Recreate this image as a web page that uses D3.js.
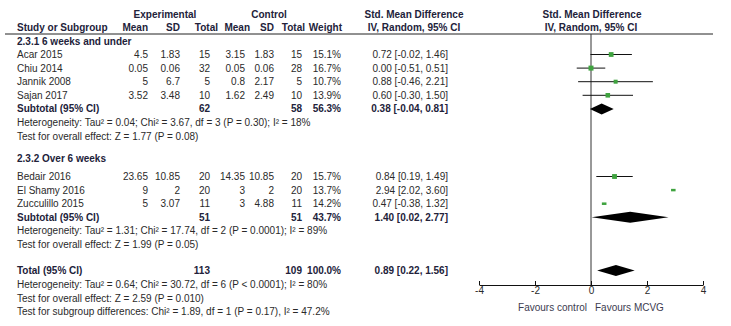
<!DOCTYPE html>
<html><head><meta charset="utf-8">
<script src="https://cdn.jsdelivr.net/npm/d3@7"></script>
<style>
html,body{margin:0;padding:0;background:#fff;}
svg text{font-family:"Liberation Sans",Arial,sans-serif;font-size:10px;}
</style></head>
<body><svg id="c" width="731" height="326"></svg>
<script>
// ---------------- DATA ----------------
const groups = ["2.3.1 6 weeks and under", "2.3.2 Over 6 weeks"];
const studies = ["Acar 2015","Chiu 2014","Jannik 2008","Sajan 2017","Bedair 2016","El Shamy 2016","Zucculillo 2015"];
const studyGroup = [0,0,0,0,1,1,1];
const expMean = [4.5, 0.05, 5, 3.52, 23.65, 9, 5];
const expSD   = [1.83, 0.06, 6.7, 3.48, 10.85, 2, 3.07];
const expN    = [15, 32, 5, 10, 20, 20, 11];
const ctlMean = [3.15, 0.05, 0.8, 1.62, 14.35, 3, 3];
const ctlSD   = [1.83, 0.06, 2.17, 2.49, 10.85, 2, 4.88];
const ctlN    = [15, 28, 5, 10, 20, 20, 11];
const weight  = [15.1, 16.7, 10.7, 13.9, 15.7, 13.7, 14.2];
const smd     = [0.72, 0.00, 0.88, 0.60, 0.84, 2.94, 0.47];
const smdLo   = [-0.02, -0.51, -0.46, -0.30, 0.19, 2.02, -0.38];
const smdHi   = [1.46, 0.51, 2.21, 1.50, 1.49, 3.60, 1.32];

const subExpN = [62, 51];
const subCtlN = [58, 51];
const subWeight = [56.3, 43.7];
const subSmd = [0.38, 1.40];
const subLo = [-0.04, 0.02];
const subHi = [0.81, 2.77];
const subHet = ["Heterogeneity: Tau\u00b2 = 0.04; Chi\u00b2 = 3.67, df = 3 (P = 0.30); I\u00b2 = 18%",
                "Heterogeneity: Tau\u00b2 = 1.31; Chi\u00b2 = 17.74, df = 2 (P = 0.0001); I\u00b2 = 89%"];
const subTest = ["Test for overall effect: Z = 1.77 (P = 0.08)",
                 "Test for overall effect: Z = 1.99 (P = 0.05)"];

const totalExpN = 113, totalCtlN = 109, totalWeight = 100.0;
const totalSmd = 0.89, totalLo = 0.22, totalHi = 1.56;
const totalNotes = ["Heterogeneity: Tau\u00b2 = 0.64; Chi\u00b2 = 30.72, df = 6 (P < 0.0001); I\u00b2 = 80%",
                    "Test for overall effect: Z = 2.59 (P = 0.010)",
                    "Test for subgroup differences: Chi\u00b2 = 1.89, df = 1 (P = 0.17), I\u00b2 = 47.2%"];
const axisTicks = [-4, -2, 0, 2, 4];
const favourLabels = ["Favours control", "Favours MCVG"];

// ---------------- LAYOUT ----------------
const svg = d3.select("#c");
const REG = "#2a2a2a", BOLD = "#22223a", GREEN = "#3fa33f";
const x = d3.scaleLinear().domain([-4, 4]).range([479, 703]);
// [value right edge, header right edge]
const col = {expMean:[148,148], expSD:[180,180], expN:[210,218], ctlMean:[245,250],
             ctlSD:[274,274], ctlN:[302,305], weight:[341,342], ci:448};
const noCI = new Set([5, 6]); // drawn without whiskers (squashed markers) as in the reference
const rowH = 13.6;
const yStudy = [], ySub = [], yHet = [], yTest = [], yHead = [];
yHead[0] = 41;
let yy = 54.5;
for (let i = 0; i < 4; i++) { yStudy.push(yy); yy += rowH; }
ySub[0] = yy; yHet[0] = yy + rowH; yTest[0] = yy + 2*rowH;
yHead[1] = 158;
yy = 176.5;
for (let i = 4; i < 7; i++) { yStudy.push(yy); yy += rowH; }
ySub[1] = yy; yHet[1] = yy + rowH; yTest[1] = yy + 2*rowH;
const yTotal = 270.5;
const yNotes = [284.5, 298, 311.5];
const yAxis = 285;

function txt(xp, yp, s, opt = {}) {
  return svg.append("text").attr("x", xp).attr("y", yp).attr("dy", "0.35em")
    .attr("text-anchor", opt.anchor || "start")
    .attr("font-weight", opt.bold ? "bold" : "normal")
    .attr("fill", opt.color || (opt.bold ? BOLD : REG)).text(s);
}
const f2 = v => v.toFixed(2);
const ciStr = (m, l, h) => `${f2(m)} [${f2(l)}, ${f2(h)}]`;
const pct = w => w.toFixed(1) + "%";

// headers
txt(165, 14, "Experimental", {anchor:"middle", bold:true});
txt(269, 14, "Control", {anchor:"middle", bold:true});
txt(414, 14, "Std. Mean Difference", {anchor:"middle", bold:true});
txt(592, 14, "Std. Mean Difference", {anchor:"middle", bold:true});
const y2 = 27.5;
txt(17, y2, "Study or Subgroup", {bold:true});
txt(col.expMean[1], y2, "Mean", {anchor:"end", bold:true});
txt(col.expSD[1], y2, "SD", {anchor:"end", bold:true});
txt(col.expN[1], y2, "Total", {anchor:"end", bold:true});
txt(col.ctlMean[1], y2, "Mean", {anchor:"end", bold:true});
txt(col.ctlSD[1], y2, "SD", {anchor:"end", bold:true});
txt(col.ctlN[1], y2, "Total", {anchor:"end", bold:true});
txt(col.weight[1], y2, "Weight", {anchor:"end", bold:true});
txt(414, y2, "IV, Random, 95% CI", {anchor:"middle", bold:true});
txt(591, y2, "IV, Random, 95% CI", {anchor:"middle", bold:true});
svg.append("line").attr("x1", 5).attr("x2", 713).attr("y1", 34).attr("y2", 34)
  .attr("stroke", "#222").attr("stroke-width", 1);

// zero line
svg.append("line").attr("x1", x(0)).attr("x2", x(0)).attr("y1", 34).attr("y2", yAxis)
  .attr("stroke", "#333").attr("stroke-width", 1);

// groups
groups.forEach((g, gi) => txt(17, yHead[gi], g, {bold:true}));

// studies
const size = d3.scaleSqrt().domain([0, 16.7]).range([0, 5]);
studies.forEach((s, i) => {
  const yp = yStudy[i];
  txt(17, yp, s);
  txt(col.expMean[0], yp, String(expMean[i]), {anchor:"end"});
  txt(col.expSD[0], yp, String(expSD[i]), {anchor:"end"});
  txt(col.expN[0], yp, String(expN[i]), {anchor:"end"});
  txt(col.ctlMean[0], yp, String(ctlMean[i]), {anchor:"end"});
  txt(col.ctlSD[0], yp, String(ctlSD[i]), {anchor:"end"});
  txt(col.ctlN[0], yp, String(ctlN[i]), {anchor:"end"});
  txt(col.weight[0], yp, pct(weight[i]), {anchor:"end"});
  txt(col.ci, yp, ciStr(smd[i], smdLo[i], smdHi[i]), {anchor:"end"});
  const sz = size(weight[i]);
  if (!noCI.has(i)) {
    svg.append("line").attr("x1", x(smdLo[i])).attr("x2", x(smdHi[i]))
      .attr("y1", yp).attr("y2", yp).attr("stroke", "#111").attr("stroke-width", 1);
    svg.append("rect").attr("x", x(smd[i]) - sz/2).attr("y", yp - sz/2)
      .attr("width", sz).attr("height", sz).attr("fill", GREEN);
  } else {
    const h = sz * 0.55;
    svg.append("rect").attr("x", x(smd[i]) - sz/2).attr("y", yp - h/2)
      .attr("width", sz).attr("height", h).attr("fill", GREEN);
  }
});

function diamond(m, l, h, yp, hh) {
  svg.append("path")
    .attr("d", `M${x(l)},${yp}L${x(m)},${yp - hh}L${x(h)},${yp}L${x(m)},${yp + hh}Z`)
    .attr("fill", "#000");
}

// subtotals
groups.forEach((g, gi) => {
  const yp = ySub[gi];
  txt(17, yp, "Subtotal (95% CI)", {bold:true});
  txt(col.expN[0], yp, String(subExpN[gi]), {anchor:"end", bold:true});
  txt(col.ctlN[0], yp, String(subCtlN[gi]), {anchor:"end", bold:true});
  txt(col.weight[0], yp, pct(subWeight[gi]), {anchor:"end", bold:true});
  txt(col.ci, yp, ciStr(subSmd[gi], subLo[gi], subHi[gi]), {anchor:"end", bold:true});
  diamond(subSmd[gi], subLo[gi], subHi[gi], yp, 5.5);
  txt(17, yHet[gi], subHet[gi]);
  txt(17, yTest[gi], subTest[gi]);
});

// total
txt(17, yTotal, "Total (95% CI)", {bold:true});
txt(col.expN[0], yTotal, String(totalExpN), {anchor:"end", bold:true});
txt(col.ctlN[0], yTotal, String(totalCtlN), {anchor:"end", bold:true});
txt(col.weight[0], yTotal, pct(totalWeight), {anchor:"end", bold:true});
txt(col.ci, yTotal, ciStr(totalSmd, totalLo, totalHi), {anchor:"end", bold:true});
diamond(totalSmd, totalLo, totalHi, yTotal, 5.5);
totalNotes.forEach((n, i) => txt(17, yNotes[i], n));

// axis
const ax = svg.append("g").attr("transform", `translate(0,${yAxis})`)
  .call(d3.axisBottom(x).tickValues(axisTicks).tickFormat(d => String(d))
        .tickSizeInner(-4).tickSizeOuter(0).tickPadding(2));
ax.select(".domain").attr("stroke", "#111");
ax.selectAll(".tick line").attr("stroke", "#111");
ax.selectAll(".tick text").attr("fill", REG).attr("font-size", 10)
  .attr("font-family", '"Liberation Sans",Arial,sans-serif');
txt(587, 307, favourLabels[0], {anchor:"end", color:"#3c3c50"});
txt(595, 307, favourLabels[1], {color:"#3c3c50"});
</script></body></html>
